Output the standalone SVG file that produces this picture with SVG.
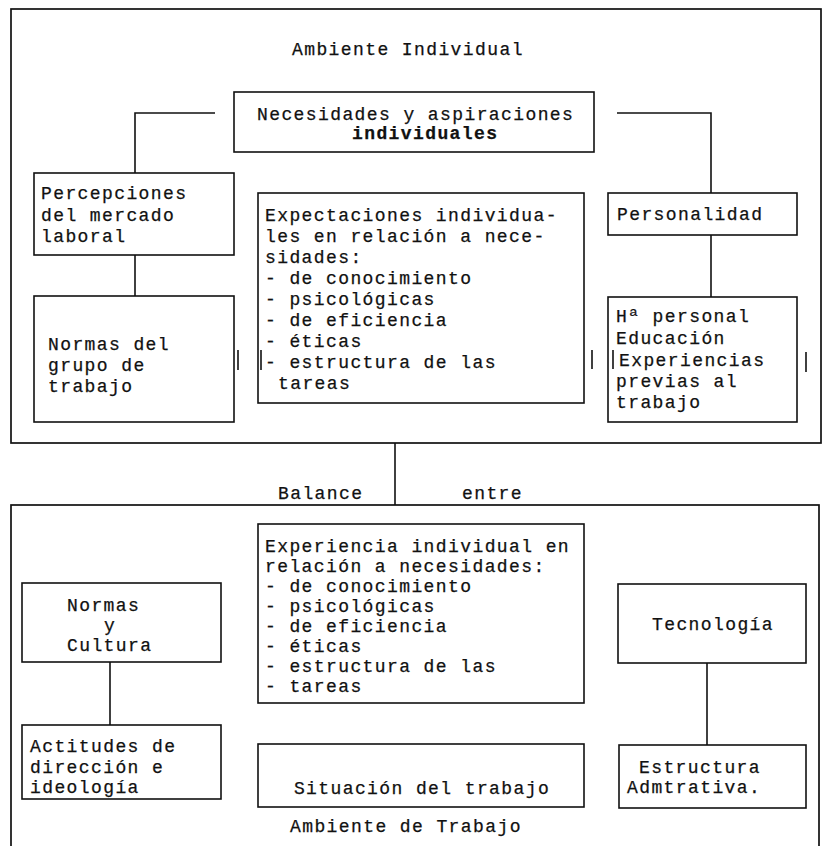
<svg xmlns="http://www.w3.org/2000/svg" width="827" height="846" viewBox="0 0 827 846">
<style>
  .frame { fill: none; stroke: #111; stroke-width: 1.7; }
  .box { fill: #fff; stroke: #111; stroke-width: 1.6; }
  .conn { fill: none; stroke: #111; stroke-width: 1.6; }
  .tick { stroke: #111; stroke-width: 1.6; }
  text { font-family: "Liberation Mono", "Courier New", monospace; font-size: 18px; letter-spacing: 1.4px; fill: #111; stroke: #111; stroke-width: 0.25; }
  .b { font-weight: bold; }
</style>
<rect width="827" height="846" fill="#fff"/>

<g id="ambiente-individual">
  <rect class="frame" x="11" y="9" width="810" height="434"/>
  <text x="292" y="55">Ambiente Individual</text>
</g>

<g id="ambiente-trabajo">
  <rect class="frame" x="11" y="505" width="808" height="360"/>
  <text x="290" y="832">Ambiente de Trabajo</text>
</g>

<g id="connectors">
  <path class="conn" d="M215,113 H135 V173"/>
  <path class="conn" d="M135,255 V296"/>
  <path class="conn" d="M617,113 H711 V193"/>
  <path class="conn" d="M711,235 V297"/>
  <path class="conn" d="M395,443 V505"/>
  <path class="conn" d="M110,662 V725"/>
  <path class="conn" d="M707,663 V745"/>
</g>

<g id="balance">
  <text x="278" y="499">Balance</text>
  <text x="462" y="499">entre</text>
</g>

<g id="necesidades">
  <rect class="box" x="234" y="92" width="360" height="60"/>
  <text x="257" y="120">Necesidades y aspiraciones</text>
  <text x="352" y="139" class="b">individuales</text>
</g>

<g id="percepciones">
  <rect class="box" x="34" y="173" width="200" height="82"/>
  <text x="41" y="199">Percepciones</text>
  <text x="41" y="221">del mercado</text>
  <text x="41" y="242">laboral</text>
</g>

<g id="normas-grupo">
  <rect class="box" x="34" y="296" width="200" height="126"/>
  <text x="48" y="350">Normas del</text>
  <text x="48" y="371">grupo de</text>
  <text x="48" y="392">trabajo</text>
</g>

<g id="expectaciones">
  <rect class="box" x="258" y="193" width="326" height="210"/>
  <text x="265" y="221">Expectaciones individua-</text>
  <text x="265" y="242">les en relación a nece-</text>
  <text x="265" y="263">sidades:</text>
  <text x="265" y="284">- de conocimiento</text>
  <text x="265" y="305">- psicológicas</text>
  <text x="265" y="326">- de eficiencia</text>
  <text x="265" y="347">- éticas</text>
  <text x="265" y="368">- estructura de las</text>
  <text x="278" y="389">tareas</text>
</g>

<g id="personalidad">
  <rect class="box" x="608" y="193" width="189" height="42"/>
  <text x="617" y="220">Personalidad</text>
</g>

<g id="historia">
  <rect class="box" x="608" y="297" width="189" height="125"/>
  <text x="616" y="322">Hª personal</text>
  <text x="616" y="344">Educación</text>
  <text x="619" y="366">Experiencias</text>
  <text x="616" y="387">previas al</text>
  <text x="616" y="408">trabajo</text>
</g>

<g id="marks">
  <line class="tick" x1="238" y1="350" x2="238" y2="370"/>
  <line class="tick" x1="261" y1="350" x2="261" y2="370"/>
  <line class="tick" x1="592" y1="350" x2="592" y2="369"/>
  <line class="tick" x1="613" y1="350" x2="613" y2="369"/>
  <line class="tick" x1="806" y1="352" x2="806" y2="372"/>
</g>

<g id="experiencia">
  <rect class="box" x="258" y="524" width="326" height="179"/>
  <text x="265" y="552">Experiencia individual en</text>
  <text x="265" y="572">relación a necesidades:</text>
  <text x="265" y="592">- de conocimiento</text>
  <text x="265" y="612">- psicológicas</text>
  <text x="265" y="632">- de eficiencia</text>
  <text x="265" y="652">- éticas</text>
  <text x="265" y="672">- estructura de las</text>
  <text x="265" y="692">- tareas</text>
</g>

<g id="normas-cultura">
  <rect class="box" x="22" y="583" width="199" height="79"/>
  <text x="67" y="611">Normas</text>
  <text x="104" y="631">y</text>
  <text x="67" y="651">Cultura</text>
</g>

<g id="actitudes">
  <rect class="box" x="22" y="725" width="199" height="74"/>
  <text x="30" y="752">Actitudes de</text>
  <text x="30" y="773">dirección e</text>
  <text x="30" y="793">ideología</text>
</g>

<g id="situacion">
  <rect class="box" x="258" y="744" width="326" height="63"/>
  <text x="422" y="794" text-anchor="middle">Situación del trabajo</text>
</g>

<g id="tecnologia">
  <rect class="box" x="618" y="584" width="188" height="79"/>
  <text x="713" y="630" text-anchor="middle">Tecnología</text>
</g>

<g id="estructura">
  <rect class="box" x="619" y="745" width="187" height="63"/>
  <text x="639" y="773">Estructura</text>
  <text x="627" y="793">Admtrativa.</text>
</g>
</svg>
